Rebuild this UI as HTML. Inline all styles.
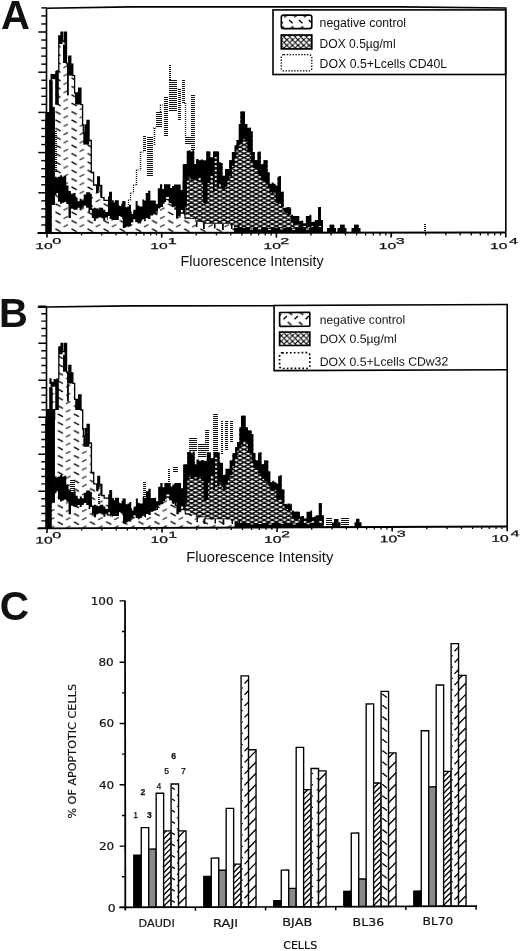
<!DOCTYPE html>
<html lang="en"><head><meta charset="utf-8"><title>Figure</title>
<style>html,body{margin:0;padding:0;background:#fff}body{width:520px;height:951px;overflow:hidden}svg{display:block}text{font-family:"Liberation Sans",Arial,Helvetica,sans-serif;fill:#111}text.tk{stroke:#111;stroke-width:0.25px}text.dj{font-family:"DejaVu Sans","Liberation Sans",sans-serif;stroke:#111;stroke-width:0.18px}</style>
</head><body>
<svg width="520" height="951" viewBox="0 0 520 951">
<defs>
<pattern id="negA" patternUnits="userSpaceOnUse" width="16.1" height="8.38" patternTransform="translate(54 110.7)"><g stroke="#000" stroke-width="1.5" fill="none"><path d="M1.4 -7.58 l5.2 2.8"/><path d="M9.5 -1.08 l4.5 -2.3" stroke-width="1.25" stroke="#333"/><path d="M1.4 0.8 l5.2 2.8"/><path d="M9.5 7.3 l4.5 -2.3" stroke-width="1.25" stroke="#333"/><path d="M1.4 9.18 l5.2 2.8"/><path d="M9.5 15.68 l4.5 -2.3" stroke-width="1.25" stroke="#333"/></g></pattern>
<pattern id="negB" patternUnits="userSpaceOnUse" width="16.1" height="8.3" patternTransform="translate(56.4 413.2)"><g stroke="#000" stroke-width="1.5" fill="none"><path d="M1.4 -7.5 l5.2 2.8"/><path d="M9.5 -1 l4.5 -2.3" stroke-width="1.25" stroke="#333"/><path d="M1.4 0.8 l5.2 2.8"/><path d="M9.5 7.3 l4.5 -2.3" stroke-width="1.25" stroke="#333"/><path d="M1.4 9.1 l5.2 2.8"/><path d="M9.5 15.6 l4.5 -2.3" stroke-width="1.25" stroke="#333"/></g></pattern>
<pattern id="negLA" patternUnits="userSpaceOnUse" width="16.1" height="8.38" patternTransform="translate(283 15.5)"><g stroke="#000" stroke-width="1.5" fill="none"><path d="M1.4 -7.58 l5.2 2.8"/><path d="M9.5 -1.08 l4.5 -2.3" stroke-width="1.25" stroke="#333"/><path d="M1.4 0.8 l5.2 2.8"/><path d="M9.5 7.3 l4.5 -2.3" stroke-width="1.25" stroke="#333"/><path d="M1.4 9.18 l5.2 2.8"/><path d="M9.5 15.68 l4.5 -2.3" stroke-width="1.25" stroke="#333"/></g></pattern>
<pattern id="negLB" patternUnits="userSpaceOnUse" width="16.1" height="8.38" patternTransform="translate(281 313.5)"><g stroke="#000" stroke-width="1.5" fill="none"><path d="M1.4 -7.58 l5.2 2.8"/><path d="M9.5 -1.08 l4.5 -2.3" stroke-width="1.25" stroke="#333"/><path d="M1.4 0.8 l5.2 2.8"/><path d="M9.5 7.3 l4.5 -2.3" stroke-width="1.25" stroke="#333"/><path d="M1.4 9.18 l5.2 2.8"/><path d="M9.5 15.68 l4.5 -2.3" stroke-width="1.25" stroke="#333"/></g></pattern>
<pattern id="xhA" patternUnits="userSpaceOnUse" width="8.08" height="4.28" patternTransform="translate(1.64 3.58)"><rect width="8.08" height="4.28" fill="#fff"/><path d="M-8.08 -12.84L16.16 0M-8.08 0L16.16 -12.84M-8.08 -8.56L16.16 4.28M-8.08 4.28L16.16 -8.56M-8.08 -4.28L16.16 8.56M-8.08 8.56L16.16 -4.28M-8.08 0L16.16 12.84M-8.08 12.84L16.16 0M-8.08 4.28L16.16 17.12M-8.08 17.12L16.16 4.28M-8.08 8.56L16.16 21.4M-8.08 21.4L16.16 8.56" stroke="#000" stroke-width="1.42" fill="none"/></pattern>
<pattern id="xhB" patternUnits="userSpaceOnUse" width="8.08" height="4.28" patternTransform="translate(1.64 5.08)"><rect width="8.08" height="4.28" fill="#fff"/><path d="M-8.08 -12.84L16.16 0M-8.08 0L16.16 -12.84M-8.08 -8.56L16.16 4.28M-8.08 4.28L16.16 -8.56M-8.08 -4.28L16.16 8.56M-8.08 8.56L16.16 -4.28M-8.08 0L16.16 12.84M-8.08 12.84L16.16 0M-8.08 4.28L16.16 17.12M-8.08 17.12L16.16 4.28M-8.08 8.56L16.16 21.4M-8.08 21.4L16.16 8.56" stroke="#000" stroke-width="1.42" fill="none"/></pattern>
<pattern id="xhL" patternUnits="userSpaceOnUse" width="5.6" height="5.6" patternTransform="translate(1.2 0.6)"><rect width="5.6" height="5.6" fill="#fff"/><path d="M-1 -1L6.6 6.6M-1 6.6L6.6 -1M-1 4.6L1 6.6M4.6 -1L6.6 1M-1 1L1 -1M4.6 6.6L6.6 4.6" stroke="#000" stroke-width="1.15" fill="none"/></pattern>
<pattern id="h5" patternUnits="userSpaceOnUse" width="3.6" height="3.6" patternTransform="translate(0 0.5)"><rect width="3.6" height="3.6" fill="#fff"/><path d="M-1 4.6L4.6 -1M-1 1L1 -1M2.6 4.6L4.6 2.6" stroke="#000" stroke-width="1.05"/></pattern>
<pattern id="h7" patternUnits="userSpaceOnUse" width="7.4" height="7.2"><rect width="7.4" height="7.2" fill="#fff"/><path d="M1.6 6.2L5.8 1.6" stroke="#000" stroke-width="1.1"/></pattern>
<pattern id="h6" patternUnits="userSpaceOnUse" width="7.4" height="7.6"><rect width="7.4" height="7.6" fill="#fff"/><path d="M3.7 0V2.2M3.7 3.8V5.6" stroke="#000" stroke-width="1"/><path d="M1 4.4L3.7 6.4" stroke="#000" stroke-width="0.9"/></pattern>
</defs>
<rect width="520" height="951" fill="#fff"/>
<g>
<path d="M49.2 233 L49.2 80.4 L51.2 80.4 L51.2 74.6 L56.7 74.6 L56.7 71 L58.8 71 L58.8 36 L61 36 L61 32.2 L62.7 32.2 L62.7 41 L64.5 41 L64.5 32.2 L66.5 32.2 L66.5 63 L67 63 L67 64.2 L68.8 64.2 L68.8 56.1 L70.8 56.1 L70.8 64.2 L72.8 64.2 L72.8 75.7 L74.6 75.7 L74.6 93 L78.6 93 L78.6 88.2 L80.9 88.2 L80.9 104.6 L82.6 104.6 L82.6 125 L83.3 125 L83.3 133 L85 133 L85 125 L87 125 L87 120.4 L89 120.4 L89 140.5 L91.3 140.5 L91.3 172.5 L93.6 172.5 L93.6 185 L96 185 L96 185 L97.7 185 L97.7 176.9 L99.4 176.9 L99.4 185.5 L101.7 185.5 L101.7 197.6 L104 197.6 L104 200.4 L109.7 200.4 L109.7 192.3 L111.3 192.3 L111.3 201 L113 201 L113 210 L120 210 L120 214 L124 214 L124 222 L131 222 L131 217 L136 217 L136 221 L141 221 L141 217 L148 217 L148 214 L153 214 L153 213 L157 213 L157 207 L160 207 L160 203 L164 203 L164 199.5 L169 199.5 L169 201 L172 201 L172 205 L175 205 L175 209 L180 209 L180 213 L185 213 L185 218 L196 218 L196 221 L205 221 L205 223 L240 223 L240 227 L290 227 L290 229.5 L322 229.5 L322 233Z" fill="#fff"/>
<path d="M49.2 233 L49.2 80.4 L51.2 80.4 L51.2 74.6 L56.7 74.6 L56.7 71 L58.8 71 L58.8 36 L61 36 L61 32.2 L62.7 32.2 L62.7 41 L64.5 41 L64.5 32.2 L66.5 32.2 L66.5 63 L67 63 L67 64.2 L68.8 64.2 L68.8 56.1 L70.8 56.1 L70.8 64.2 L72.8 64.2 L72.8 75.7 L74.6 75.7 L74.6 93 L78.6 93 L78.6 88.2 L80.9 88.2 L80.9 104.6 L82.6 104.6 L82.6 125 L83.3 125 L83.3 133 L85 133 L85 125 L87 125 L87 120.4 L89 120.4 L89 140.5 L91.3 140.5 L91.3 172.5 L93.6 172.5 L93.6 185 L96 185 L96 185 L97.7 185 L97.7 176.9 L99.4 176.9 L99.4 185.5 L101.7 185.5 L101.7 197.6 L104 197.6 L104 200.4 L109.7 200.4 L109.7 192.3 L111.3 192.3 L111.3 201 L113 201 L113 210 L120 210 L120 214 L124 214 L124 222 L131 222 L131 217 L136 217 L136 221 L141 221 L141 217 L148 217 L148 214 L153 214 L153 213 L157 213 L157 207 L160 207 L160 203 L164 203 L164 199.5 L169 199.5 L169 201 L172 201 L172 205 L175 205 L175 209 L180 209 L180 213 L185 213 L185 218 L196 218 L196 221 L205 221 L205 223 L240 223 L240 227 L290 227 L290 229.5 L322 229.5 L322 233Z" fill="url(#negA)"/>
<path d="M49.2 80.4 L51.2 80.4 L51.2 74.6 L56.7 74.6 L56.7 71 L58.8 71 L58.8 36 L61 36 L61 32.2 L62.7 32.2 L62.7 41 L64.5 41 L64.5 32.2 L66.5 32.2 L66.5 63 L67 63 L67 64.2 L68.8 64.2 L68.8 56.1 L70.8 56.1 L70.8 64.2 L72.8 64.2 L72.8 75.7 L74.6 75.7 L74.6 93 L78.6 93 L78.6 88.2 L80.9 88.2 L80.9 104.6 L82.6 104.6 L82.6 125 L83.3 125 L83.3 133 L85 133 L85 125 L87 125 L87 120.4 L89 120.4 L89 140.5 L91.3 140.5 L91.3 172.5 L93.6 172.5 L93.6 185 L96 185 L96 185 L97.7 185 L97.7 176.9 L99.4 176.9 L99.4 185.5 L101.7 185.5 L101.7 197.6 L104 197.6 L104 200.4 L109.7 200.4 L109.7 192.3 L111.3 192.3 L111.3 201 L113 201 L113 210 L120 210 L120 214 L124 214 L124 222 L131 222 L131 217 L136 217 L136 221 L141 221 L141 217 L148 217 L148 214 L153 214 L153 213 L157 213 L157 207 L160 207 L160 203 L164 203 L164 199.5 L169 199.5 L169 201 L172 201 L172 205 L175 205 L175 209 L180 209 L180 213 L185 213 L185 218 L196 218 L196 221 L205 221 L205 223 L240 223 L240 227 L290 227 L290 229.5 L322 229.5" fill="none" stroke="#000" stroke-width="1.3" stroke-linejoin="miter"/>
<rect x="49.2" y="80.4" width="3.5" height="26.6" fill="#000"/>
<rect x="49.2" y="107" width="5.6" height="98" fill="#000"/>
<rect x="49.2" y="205" width="2.4" height="28" fill="#000"/>
<rect x="51.2" y="74.6" width="5.5" height="4.6" fill="#000"/>
<rect x="55.2" y="71" width="3.6" height="33.6" fill="#000"/>
<rect x="58.8" y="36" width="3.7" height="8" fill="#000"/>
<rect x="61" y="32.2" width="1.7" height="3.8" fill="#000"/>
<rect x="63" y="44.6" width="3.5" height="18.4" fill="#000"/>
<rect x="64.5" y="32.2" width="2" height="12.4" fill="#000"/>
<rect x="68.8" y="56.1" width="2" height="8.1" fill="#000"/>
<rect x="67" y="64.2" width="5.8" height="11.5" fill="#000"/>
<rect x="67" y="75.7" width="1.8" height="19.7" fill="#000"/>
<rect x="78.6" y="88.2" width="2.3" height="4.8" fill="#000"/>
<rect x="75.1" y="93" width="5.8" height="11.6" fill="#000"/>
<rect x="87" y="120.4" width="2.2" height="24.2" fill="#000"/>
<rect x="85" y="125" width="2.4" height="19.6" fill="#000"/>
<rect x="83.3" y="133" width="1.8" height="11.6" fill="#000"/>
<rect x="96" y="185" width="2.4" height="8" fill="#000"/>
<rect x="97.7" y="176.9" width="1.7" height="13.8" fill="#000"/>
<rect x="100.2" y="185.5" width="1.6" height="12.1" fill="#000"/>
<rect x="108" y="196.5" width="3.5" height="4.5" fill="#000"/>
<rect x="109.8" y="192.5" width="1.7" height="8.5" fill="#000"/>
</g>
<g stroke="#111" fill="none">
<path d="M425 224V233" stroke-width="2" stroke-dasharray="1 1" shape-rendering="crispEdges"/>
<path d="M56 131V172" stroke-width="2" stroke-dasharray="1 1" shape-rendering="crispEdges"/>
<path d="M128.5 200V206" stroke-width="1.2" stroke-dasharray="1 1"/>
<path d="M130.5 193V200" stroke-width="1.2" stroke-dasharray="1 1"/>
<path d="M133.5 185V193" stroke-width="1.2" stroke-dasharray="1 1"/>
<path d="M136.5 170V185" stroke-width="1.4" stroke-dasharray="1 1"/>
<path d="M140.5 152V170" stroke-width="1.4" stroke-dasharray="1 1"/>
<path d="M144.5 136V151" stroke-width="3" stroke-dasharray="1 1" shape-rendering="crispEdges"/>
<path d="M150 137V176" stroke-width="6" stroke-dasharray="1 1" shape-rendering="crispEdges"/>
<path d="M154.5 128V145" stroke-width="1.5" stroke-dasharray="1 1"/>
<path d="M159 112V127" stroke-width="6" stroke-dasharray="1 1" shape-rendering="crispEdges"/>
<path d="M160.5 105V112" stroke-width="1.4" stroke-dasharray="1 1"/>
<path d="M166 97V136" stroke-width="4" stroke-dasharray="1 1" shape-rendering="crispEdges"/>
<path d="M170 65V80" stroke-width="2" stroke-dasharray="1 1" shape-rendering="crispEdges"/>
<path d="M173 80V111" stroke-width="8" stroke-dasharray="1 1" shape-rendering="crispEdges"/>
<path d="M179.5 89V120" stroke-width="3" stroke-dasharray="1 1" shape-rendering="crispEdges"/>
<path d="M183.5 80V103" stroke-width="3" stroke-dasharray="1 1" shape-rendering="crispEdges"/>
<path d="M185.5 103V137" stroke-width="1.3" stroke-dasharray="1 1"/>
<path d="M189 137V144" stroke-width="8" stroke-dasharray="1 1" shape-rendering="crispEdges"/>
<path d="M193 95V151" stroke-width="4" stroke-dasharray="1 1" shape-rendering="crispEdges"/>
<path d="M128 200H131" stroke-width="1" stroke-dasharray="1 1.2"/>
<path d="M130.5 193H133.5" stroke-width="1" stroke-dasharray="1 1.2"/>
<path d="M133 185H136.5" stroke-width="1" stroke-dasharray="1 1.2"/>
<path d="M136 170H141" stroke-width="1" stroke-dasharray="1 1.2"/>
<path d="M140.5 152H144" stroke-width="1" stroke-dasharray="1 1.2"/>
<path d="M153 128H156" stroke-width="1" stroke-dasharray="1 1.2"/>
<path d="M160 105H165" stroke-width="1" stroke-dasharray="1 1.2"/>
<path d="M176.5 89H179" stroke-width="1" stroke-dasharray="1 1.2"/>
<path d="M184 103H186" stroke-width="1" stroke-dasharray="1 1.2"/>
</g>
<path d="M184 164.2 L186.8 164.2 L186.8 151.4 L194.2 151.4 L194.2 164 L196.2 164 L196.2 160.2 L203 160.2 L203 160.2 L206.3 160.2 L206.3 151.4 L207.6 151.4 L207.6 151.4 L210.3 151.4 L210.3 157.5 L213 157.5 L213 151.4 L214.6 151.4 L214.6 151.4 L216.8 151.4 L216.8 151.4 L219.1 151.4 L219.1 162.9 L222.5 162.9 L222.5 175.7 L225.1 175.7 L225.1 169 L227.4 169 L227.4 169 L229.2 169 L229.2 160.2 L231.9 160.2 L231.9 152.1 L234.6 152.1 L234.6 145.4 L236.5 145.4 L236.5 140 L238.8 140 L238.8 124 L240.4 124 L240.4 111.5 L245 111.5 L245 124 L247.3 124 L247.3 127.7 L251 127.7 L251 131.5 L252.7 131.5 L252.7 152.1 L254.8 152.1 L254.8 160.2 L257.5 160.2 L257.5 151.4 L260.8 151.4 L260.8 164.2 L263.5 164.2 L263.5 160.2 L267.6 160.2 L267.6 172.3 L269.6 172.3 L269.6 183.7 L275.6 183.7 L275.6 185.5 L277.6 185.5 L277.6 176.3 L281 176.3 L281 191.8 L283.7 191.8 L283.7 207.3 L291.1 207.3 L291.1 216 L299.2 216 L299.2 220.8 L303.2 220.8 L303.2 223.4 L305.9 223.4 L305.9 216 L311.3 216 L311.3 222 L315 222 L315 220 L318 220 L318 207 L321 207 L321 220 L323 220 L323 228 L234 228 L234 225.5 L230 225.5 L230 223 L205 223 L205 220.8 L196 220.8 L196 218 L190 218 L190 215.4 L184 215.4Z" fill="url(#xhA)"/>
<path d="M54.8 176.8 L56.4 176.8 L56.4 177.6 L58 177.6 L58 176.8 L60.05 176.8 L60.05 175.2 L62.1 175.2 L62.1 176.8 L64.15 176.8 L64.15 176 L66.2 176 L66.2 185.6 L68.5 185.6 L68.5 191 L70.9 191 L70.9 193.8 L73.25 193.8 L73.25 193 L75.6 193 L75.6 197.7 L77.6 197.7 L77.6 201.2 L79.63 201.2 L79.63 198.8 L81.67 198.8 L81.67 200.4 L83.7 200.4 L83.7 194.6 L86.1 194.6 L86.1 192.2 L88.5 192.2 L88.5 192.2 L90.15 192.2 L90.15 193.8 L91.8 193.8 L91.8 208.5 L93.8 208.5 L93.8 207.7 L95.8 207.7 L95.8 208.5 L97.65 208.5 L97.65 209.3 L99.5 209.3 L99.5 207.7 L101.35 207.7 L101.35 207.7 L103.2 207.7 L103.2 209.7 L105.25 209.7 L105.25 212.1 L107.3 212.1 L107.3 211.8 L108 211.8 L108 200.4 L109.7 200.4 L109.7 192.3 L111.4 192.3 L111.4 201.7 L112.7 201.7 L112.7 202.6 L114.73 202.6 L114.73 200.2 L116.77 200.2 L116.77 200.2 L118.8 200.2 L118.8 205.3 L120.5 205.3 L120.5 203.7 L122.2 203.7 L122.2 201 L122.8 201 L122.8 201 L125.5 201 L125.5 207.2 L127.33 207.2 L127.33 206.4 L129.17 206.4 L129.17 204.8 L131 204.8 L131 211.4 L133.3 211.4 L133.3 209.8 L135.6 209.8 L135.6 201 L137.6 201 L137.6 205.6 L139.3 205.6 L139.3 206.4 L141 206.4 L141 206.4 L142.4 206.4 L142.4 199.6 L144.05 199.6 L144.05 200.4 L145.7 200.4 L145.7 193.1 L148.05 193.1 L148.05 190.7 L150.4 190.7 L150.4 200.4 L153 200.4 L153 200.4 L155.8 200.4 L155.8 204 L157.8 204 L157.8 188.3 L160 188.3 L160 184.2 L163 184.2 L163 184.2 L166 184.2 L166 184.2 L169 184.2 L169 184.2 L172 184.2 L172 186 L174 186 L174 184.4 L176 184.4 L176 184.4 L178.35 184.4 L178.35 184.4 L180.7 184.4 L180.7 190 L182.7 190 L182.7 181 L185 181 L185 214 L182.7 214 L182.7 210 L180.7 210 L180.7 216 L178.35 216 L178.35 218 L176 218 L176 206 L174 206 L174 207 L172 207 L172 203 L169 203 L169 197 L166 197 L166 202 L163 202 L163 207 L160 207 L160 208.4 L157.8 208.4 L157.8 211 L155.8 211 L155.8 214 L153 214 L153 215.5 L150.4 215.5 L150.4 219 L148.05 219 L148.05 218 L145.7 218 L145.7 221.2 L144.05 221.2 L144.05 219.2 L142.4 219.2 L142.4 220.2 L141 220.2 L141 222.6 L139.3 222.6 L139.3 223.6 L137.6 223.6 L137.6 222 L135.6 222 L135.6 219.2 L133.3 219.2 L133.3 222.2 L131 222.2 L131 226 L129.17 226 L129.17 226 L127.33 226 L127.33 227 L125.5 227 L125.5 228 L122.8 228 L122.8 219 L122.2 219 L122.2 217 L120.5 217 L120.5 216 L118.8 216 L118.8 220 L116.77 220 L116.77 220 L114.73 220 L114.73 220 L112.7 220 L112.7 220.5 L111.4 220.5 L111.4 219 L109.7 219 L109.7 215.9 L108 215.9 L108 220 L107.3 220 L107.3 217.5 L105.25 217.5 L105.25 220.5 L103.2 220.5 L103.2 218.2 L101.35 218.2 L101.35 217.2 L99.5 217.2 L99.5 217.2 L97.65 217.2 L97.65 218.2 L95.8 218.2 L95.8 220.9 L93.8 220.9 L93.8 217.9 L91.8 217.9 L91.8 210 L90.15 210 L90.15 212 L88.5 212 L88.5 207.8 L86.1 207.8 L86.1 205.8 L83.7 205.8 L83.7 207.8 L81.67 207.8 L81.67 209.8 L79.63 209.8 L79.63 207.8 L77.6 207.8 L77.6 209.8 L75.6 209.8 L75.6 209.8 L73.25 209.8 L73.25 208.8 L70.9 208.8 L70.9 217.9 L68.5 217.9 L68.5 204 L66.2 204 L66.2 201.7 L64.15 201.7 L64.15 202.7 L62.1 202.7 L62.1 203.7 L60.05 203.7 L60.05 201.7 L58 201.7 L58 193 L56.4 193 L56.4 195 L54.8 195Z" fill="#000"/>
<path d="M184 164.2 L186.8 164.2 L186.8 150.8 L188.65 150.8 L188.65 150.2 L190.5 150.2 L190.5 152 L192.35 152 L192.35 150.2 L194.2 150.2 L194.2 164 L196.2 164 L196.2 159 L198.47 159 L198.47 160.8 L200.73 160.8 L200.73 159.6 L203 159.6 L203 160.2 L204.65 160.2 L204.65 160.8 L206.3 160.8 L206.3 151.4 L207.6 151.4 L207.6 151.4 L210.3 151.4 L210.3 157.5 L213 157.5 L213 151.4 L214.6 151.4 L214.6 151.4 L216.8 151.4 L216.8 151.4 L219.1 151.4 L219.1 162.3 L220.8 162.3 L220.8 162.9 L222.5 162.9 L222.5 175.7 L225.1 175.7 L225.1 169 L227.4 169 L227.4 169 L229.2 169 L229.2 160.2 L231.9 160.2 L231.9 152.1 L234.6 152.1 L234.6 145.4 L236.5 145.4 L236.5 140 L238.8 140 L238.8 124 L240.4 124 L240.4 111.5 L242.7 111.5 L242.7 111.5 L245 111.5 L245 124 L247.3 124 L247.3 127.7 L249.15 127.7 L249.15 127.7 L251 127.7 L251 131.5 L252.7 131.5 L252.7 152.1 L254.8 152.1 L254.8 160.2 L257.5 160.2 L257.5 152.6 L259.15 152.6 L259.15 151.4 L260.8 151.4 L260.8 164.2 L263.5 164.2 L263.5 160.2 L265.55 160.2 L265.55 160.2 L267.6 160.2 L267.6 172.3 L269.6 172.3 L269.6 184.3 L271.6 184.3 L271.6 182.5 L273.6 182.5 L273.6 184.3 L275.6 184.3 L275.6 185.5 L277.6 185.5 L277.6 177.5 L279.3 177.5 L279.3 176.3 L281 176.3 L281 191.8 L283.7 191.8 L283.7 207.9 L285.55 207.9 L285.55 207.9 L287.4 207.9 L287.4 207.3 L289.25 207.3 L289.25 208.5 L291.1 208.5 L291.1 214.8 L293.12 214.8 L293.12 216 L295.15 216 L295.15 216 L297.18 216 L297.18 216 L299.2 216 L299.2 221.4 L301.2 221.4 L301.2 220.8 L303.2 220.8 L303.2 223.4 L305.9 223.4 L305.9 216 L307.7 216 L307.7 216 L309.5 216 L309.5 214.8 L311.3 214.8 L311.3 222 L313.15 222 L313.15 221.4 L315 221.4 L315 220 L318 220 L318 207 L321 207 L321 220 L323 220 L323 228 L321 228 L321 226 L318 226 L318 230 L315 230 L315 228 L313.15 228 L313.15 226 L311.3 226 L311.3 227 L309.5 227 L309.5 227 L307.7 227 L307.7 228 L305.9 228 L305.9 226 L303.2 226 L303.2 228 L301.2 228 L301.2 231 L299.2 231 L299.2 224 L297.18 224 L297.18 225 L295.15 225 L295.15 225 L293.12 225 L293.12 222 L291.1 222 L291.1 214 L289.25 214 L289.25 216 L287.4 216 L287.4 213 L285.55 213 L285.55 212 L283.7 212 L283.7 207 L281 207 L281 203 L279.3 203 L279.3 203 L277.6 203 L277.6 203 L275.6 203 L275.6 192 L273.6 192 L273.6 193 L271.6 193 L271.6 192 L269.6 192 L269.6 188 L267.6 188 L267.6 184 L265.55 184 L265.55 182 L263.5 182 L263.5 180 L260.8 180 L260.8 176 L259.15 176 L259.15 174 L257.5 174 L257.5 169 L254.8 169 L254.8 168 L252.7 168 L252.7 161 L251 161 L251 152 L249.15 152 L249.15 151 L247.3 151 L247.3 141 L245 141 L245 139 L242.7 139 L242.7 143 L240.4 143 L240.4 145 L238.8 145 L238.8 149 L236.5 149 L236.5 157 L234.6 157 L234.6 166 L231.9 166 L231.9 176 L229.2 176 L229.2 181 L227.4 181 L227.4 186 L225.1 186 L225.1 191 L222.5 191 L222.5 188 L220.8 188 L220.8 184 L219.1 184 L219.1 188 L216.8 188 L216.8 157 L214.6 157 L214.6 192 L213 192 L213 176 L210.3 176 L210.3 183 L207.6 183 L207.6 203 L206.3 203 L206.3 204 L204.65 204 L204.65 203 L203 203 L203 182 L200.73 182 L200.73 177 L198.47 177 L198.47 181 L196.2 181 L196.2 178 L194.2 178 L194.2 179.7 L192.35 179.7 L192.35 179.7 L190.5 179.7 L190.5 176.7 L188.65 176.7 L188.65 180.7 L186.8 180.7 L186.8 203 L184 203Z" fill="#000"/>
<rect x="327" y="228" width="9" height="5" fill="#000"/>
<rect x="329.5" y="224.6" width="4.8" height="3.9" fill="#000"/>
<rect x="337.5" y="228" width="9" height="5" fill="#000"/>
<rect x="340" y="224.6" width="4.8" height="3.9" fill="#000"/>
<rect x="351.5" y="228" width="9" height="5" fill="#000"/>
<rect x="354" y="224.6" width="4.8" height="3.9" fill="#000"/>
<rect x="234" y="228" width="89" height="5" fill="#000"/>
<rect x="45.3" y="120" width="6.2" height="113" fill="#000"/>
<rect x="45.3" y="112" width="9.5" height="93" fill="#000"/>
<rect x="182.7" y="164.2" width="4.1" height="42.8" fill="#000"/>
<rect x="196" y="222" width="1.5" height="5" fill="#000"/>
<rect x="203" y="223" width="1.8" height="6" fill="#000"/>
<rect x="214" y="223.5" width="1.5" height="5" fill="#000"/>
<rect x="222" y="224" width="1.8" height="6" fill="#000"/>
<rect x="231" y="224.5" width="1.5" height="4.5" fill="#000"/>
<rect x="238" y="225" width="1.6" height="5" fill="#000"/>
<rect x="300" y="190" width="0" height="13" fill="#000"/>
<rect x="119.5" y="200.5" width="1.8" height="5.5" fill="#fff"/>
<rect x="131.7" y="206" width="1.4" height="8" fill="#fff"/>
<rect x="162.2" y="183.5" width="1.8" height="5.5" fill="#fff"/>
<rect x="170.3" y="183.5" width="1.8" height="4.5" fill="#fff"/>
<rect x="250" y="228.6" width="3" height="1" fill="#fff"/>
<rect x="258" y="228.2" width="3" height="1.1" fill="#fff"/>
<rect x="268" y="228.8" width="3" height="1" fill="#fff"/>
<rect x="280" y="228.4" width="3" height="1" fill="#fff"/>
<rect x="292" y="228.8" width="3" height="1" fill="#fff"/>
<rect x="306" y="228.6" width="3" height="1" fill="#fff"/>
<g stroke="#000" fill="none">
<path d="M46.5 233V8.3L130 6.9L400 6.9L505.8 8V232.7" stroke-width="1.6"/>
<path d="M38.3 233H46.5" stroke-width="1.5"/>
<path d="M41.3 224.96H46.5" stroke-width="1.4"/>
<path d="M41.3 216.92H46.5" stroke-width="1.4"/>
<path d="M41.3 208.88H46.5" stroke-width="1.4"/>
<path d="M41.3 200.84H46.5" stroke-width="1.4"/>
<path d="M38.3 192.8H46.5" stroke-width="1.5"/>
<path d="M41.3 184.76H46.5" stroke-width="1.4"/>
<path d="M41.3 176.72H46.5" stroke-width="1.4"/>
<path d="M41.3 168.68H46.5" stroke-width="1.4"/>
<path d="M41.3 160.64H46.5" stroke-width="1.4"/>
<path d="M38.3 152.6H46.5" stroke-width="1.5"/>
<path d="M41.3 144.56H46.5" stroke-width="1.4"/>
<path d="M41.3 136.52H46.5" stroke-width="1.4"/>
<path d="M41.3 128.48H46.5" stroke-width="1.4"/>
<path d="M41.3 120.44H46.5" stroke-width="1.4"/>
<path d="M38.3 112.4H46.5" stroke-width="1.5"/>
<path d="M41.3 104.36H46.5" stroke-width="1.4"/>
<path d="M41.3 96.32H46.5" stroke-width="1.4"/>
<path d="M41.3 88.28H46.5" stroke-width="1.4"/>
<path d="M41.3 80.24H46.5" stroke-width="1.4"/>
<path d="M38.3 72.2H46.5" stroke-width="1.5"/>
<path d="M41.3 64.16H46.5" stroke-width="1.4"/>
<path d="M41.3 56.12H46.5" stroke-width="1.4"/>
<path d="M41.3 48.08H46.5" stroke-width="1.4"/>
<path d="M41.3 40.04H46.5" stroke-width="1.4"/>
<path d="M38.3 32H46.5" stroke-width="1.5"/>
<path d="M41.3 23.96H46.5" stroke-width="1.4"/>
<path d="M41.3 15.92H46.5" stroke-width="1.4"/>
<path d="M41.3 7.88H46.5" stroke-width="1.4"/>
<path d="M37.5 233L505.8 232.5" stroke-width="1.9"/>
<path d="M47 233V237.6" stroke-width="1.6"/>
<path d="M81.53 233V235.4" stroke-width="1.3"/>
<path d="M101.73 233V235.4" stroke-width="1.3"/>
<path d="M116.06 233V235.4" stroke-width="1.3"/>
<path d="M127.17 233V235.4" stroke-width="1.3"/>
<path d="M136.25 233V235.4" stroke-width="1.3"/>
<path d="M143.93 233V235.4" stroke-width="1.3"/>
<path d="M150.58 233V235.4" stroke-width="1.3"/>
<path d="M156.45 233V235.4" stroke-width="1.3"/>
<path d="M161.7 233V237.6" stroke-width="1.6"/>
<path d="M196.23 233V235.4" stroke-width="1.3"/>
<path d="M216.43 233V235.4" stroke-width="1.3"/>
<path d="M230.76 233V235.4" stroke-width="1.3"/>
<path d="M241.87 233V235.4" stroke-width="1.3"/>
<path d="M250.95 233V235.4" stroke-width="1.3"/>
<path d="M258.63 233V235.4" stroke-width="1.3"/>
<path d="M265.28 233V235.4" stroke-width="1.3"/>
<path d="M271.15 233V235.4" stroke-width="1.3"/>
<path d="M276.4 233V237.6" stroke-width="1.6"/>
<path d="M310.93 233V235.4" stroke-width="1.3"/>
<path d="M331.13 233V235.4" stroke-width="1.3"/>
<path d="M345.46 233V235.4" stroke-width="1.3"/>
<path d="M356.57 233V235.4" stroke-width="1.3"/>
<path d="M365.65 233V235.4" stroke-width="1.3"/>
<path d="M373.33 233V235.4" stroke-width="1.3"/>
<path d="M379.98 233V235.4" stroke-width="1.3"/>
<path d="M385.85 233V235.4" stroke-width="1.3"/>
<path d="M391.1 233V237.6" stroke-width="1.6"/>
<path d="M425.63 233V235.4" stroke-width="1.3"/>
<path d="M445.83 233V235.4" stroke-width="1.3"/>
<path d="M460.16 233V235.4" stroke-width="1.3"/>
<path d="M471.27 233V235.4" stroke-width="1.3"/>
<path d="M480.35 233V235.4" stroke-width="1.3"/>
<path d="M488.03 233V235.4" stroke-width="1.3"/>
<path d="M494.68 233V235.4" stroke-width="1.3"/>
<path d="M500.55 233V235.4" stroke-width="1.3"/>
<path d="M505.8 233V237.6" stroke-width="1.6"/>
</g>
<text x="35.2" y="249.3" font-size="9.6" textLength="17.4" lengthAdjust="spacingAndGlyphs" class="tk">10</text>
<text x="52.3" y="244" font-size="8.8" textLength="9" lengthAdjust="spacingAndGlyphs" class="tk">0</text>
<text x="150.2" y="249.3" font-size="9.6" textLength="17.4" lengthAdjust="spacingAndGlyphs" class="tk">10</text>
<text x="167.8" y="244" font-size="8.8" textLength="9" lengthAdjust="spacingAndGlyphs" class="tk">1</text>
<text x="263.5" y="249.3" font-size="9.6" textLength="17.4" lengthAdjust="spacingAndGlyphs" class="tk">10</text>
<text x="280.3" y="244" font-size="8.8" textLength="9" lengthAdjust="spacingAndGlyphs" class="tk">2</text>
<text x="378.7" y="249.3" font-size="9.6" textLength="17.4" lengthAdjust="spacingAndGlyphs" class="tk">10</text>
<text x="395.8" y="244" font-size="8.8" textLength="9" lengthAdjust="spacingAndGlyphs" class="tk">3</text>
<text x="490" y="249.3" font-size="9.6" textLength="17.4" lengthAdjust="spacingAndGlyphs" class="tk">10</text>
<text x="509" y="244" font-size="8.8" textLength="9" lengthAdjust="spacingAndGlyphs" class="tk">4</text>
<g transform="matrix(1 -0.00384 0 1 0 0.1786)">
<g>
<path d="M49.21 528.3 L49.21 387.85 L51.21 387.85 L51.21 382.51 L56.73 382.51 L56.73 379.2 L58.84 379.2 L58.84 346.98 L61.04 346.98 L61.04 343.48 L62.75 343.48 L62.75 351.58 L64.55 351.58 L64.55 343.48 L66.56 343.48 L66.56 371.83 L67.06 371.83 L67.06 372.94 L68.87 372.94 L68.87 365.48 L70.87 365.48 L70.87 372.94 L72.88 372.94 L72.88 383.52 L74.68 383.52 L74.68 399.44 L78.7 399.44 L78.7 395.03 L81 395.03 L81 410.12 L82.71 410.12 L82.71 428.9 L83.41 428.9 L83.41 436.26 L85.12 436.26 L85.12 428.9 L87.12 428.9 L87.12 424.66 L89.13 424.66 L89.13 443.16 L91.43 443.16 L91.43 472.62 L93.74 472.62 L93.74 484.12 L96.15 484.12 L96.15 484.12 L97.85 484.12 L97.85 476.67 L99.56 476.67 L99.56 484.58 L101.87 484.58 L101.87 495.72 L104.17 495.72 L104.17 498.29 L109.89 498.29 L109.89 490.84 L111.49 490.84 L111.49 498.85 L113.2 498.85 L113.2 507.13 L120.22 507.13 L120.22 510.81 L124.23 510.81 L124.23 518.18 L131.25 518.18 L131.25 513.57 L136.27 513.57 L136.27 517.26 L141.28 517.26 L141.28 513.57 L148.3 513.57 L148.3 510.81 L153.32 510.81 L153.32 509.89 L157.33 509.89 L157.33 504.37 L160.34 504.37 L160.34 500.69 L164.35 500.69 L164.35 497.47 L169.37 497.47 L169.37 498.85 L172.38 498.85 L172.38 502.53 L175.39 502.53 L175.39 506.21 L180.4 506.21 L180.4 509.89 L185.42 509.89 L185.42 514.49 L196.45 514.49 L196.45 517.26 L205.48 517.26 L205.48 519.1 L240.58 519.1 L240.58 522.78 L290.73 522.78 L290.73 525.08 L324 525.08 L324 528.3Z" fill="#fff"/>
<path d="M49.21 528.3 L49.21 387.85 L51.21 387.85 L51.21 382.51 L56.73 382.51 L56.73 379.2 L58.84 379.2 L58.84 346.98 L61.04 346.98 L61.04 343.48 L62.75 343.48 L62.75 351.58 L64.55 351.58 L64.55 343.48 L66.56 343.48 L66.56 371.83 L67.06 371.83 L67.06 372.94 L68.87 372.94 L68.87 365.48 L70.87 365.48 L70.87 372.94 L72.88 372.94 L72.88 383.52 L74.68 383.52 L74.68 399.44 L78.7 399.44 L78.7 395.03 L81 395.03 L81 410.12 L82.71 410.12 L82.71 428.9 L83.41 428.9 L83.41 436.26 L85.12 436.26 L85.12 428.9 L87.12 428.9 L87.12 424.66 L89.13 424.66 L89.13 443.16 L91.43 443.16 L91.43 472.62 L93.74 472.62 L93.74 484.12 L96.15 484.12 L96.15 484.12 L97.85 484.12 L97.85 476.67 L99.56 476.67 L99.56 484.58 L101.87 484.58 L101.87 495.72 L104.17 495.72 L104.17 498.29 L109.89 498.29 L109.89 490.84 L111.49 490.84 L111.49 498.85 L113.2 498.85 L113.2 507.13 L120.22 507.13 L120.22 510.81 L124.23 510.81 L124.23 518.18 L131.25 518.18 L131.25 513.57 L136.27 513.57 L136.27 517.26 L141.28 517.26 L141.28 513.57 L148.3 513.57 L148.3 510.81 L153.32 510.81 L153.32 509.89 L157.33 509.89 L157.33 504.37 L160.34 504.37 L160.34 500.69 L164.35 500.69 L164.35 497.47 L169.37 497.47 L169.37 498.85 L172.38 498.85 L172.38 502.53 L175.39 502.53 L175.39 506.21 L180.4 506.21 L180.4 509.89 L185.42 509.89 L185.42 514.49 L196.45 514.49 L196.45 517.26 L205.48 517.26 L205.48 519.1 L240.58 519.1 L240.58 522.78 L290.73 522.78 L290.73 525.08 L324 525.08 L324 528.3Z" fill="url(#negB)"/>
<path d="M49.21 387.85 L51.21 387.85 L51.21 382.51 L56.73 382.51 L56.73 379.2 L58.84 379.2 L58.84 346.98 L61.04 346.98 L61.04 343.48 L62.75 343.48 L62.75 351.58 L64.55 351.58 L64.55 343.48 L66.56 343.48 L66.56 371.83 L67.06 371.83 L67.06 372.94 L68.87 372.94 L68.87 365.48 L70.87 365.48 L70.87 372.94 L72.88 372.94 L72.88 383.52 L74.68 383.52 L74.68 399.44 L78.7 399.44 L78.7 395.03 L81 395.03 L81 410.12 L82.71 410.12 L82.71 428.9 L83.41 428.9 L83.41 436.26 L85.12 436.26 L85.12 428.9 L87.12 428.9 L87.12 424.66 L89.13 424.66 L89.13 443.16 L91.43 443.16 L91.43 472.62 L93.74 472.62 L93.74 484.12 L96.15 484.12 L96.15 484.12 L97.85 484.12 L97.85 476.67 L99.56 476.67 L99.56 484.58 L101.87 484.58 L101.87 495.72 L104.17 495.72 L104.17 498.29 L109.89 498.29 L109.89 490.84 L111.49 490.84 L111.49 498.85 L113.2 498.85 L113.2 507.13 L120.22 507.13 L120.22 510.81 L124.23 510.81 L124.23 518.18 L131.25 518.18 L131.25 513.57 L136.27 513.57 L136.27 517.26 L141.28 517.26 L141.28 513.57 L148.3 513.57 L148.3 510.81 L153.32 510.81 L153.32 509.89 L157.33 509.89 L157.33 504.37 L160.34 504.37 L160.34 500.69 L164.35 500.69 L164.35 497.47 L169.37 497.47 L169.37 498.85 L172.38 498.85 L172.38 502.53 L175.39 502.53 L175.39 506.21 L180.4 506.21 L180.4 509.89 L185.42 509.89 L185.42 514.49 L196.45 514.49 L196.45 517.26 L205.48 517.26 L205.48 519.1 L240.58 519.1 L240.58 522.78 L290.73 522.78 L290.73 525.08 L324 525.08" fill="none" stroke="#000" stroke-width="1.3" stroke-linejoin="miter"/>
<rect x="49.21" y="387.85" width="3.5" height="24.48" fill="#000"/>
<rect x="49.21" y="412.33" width="5.6" height="90.2" fill="#000"/>
<rect x="49.21" y="502.53" width="2.4" height="25.77" fill="#000"/>
<rect x="51.21" y="382.51" width="5.5" height="4.23" fill="#000"/>
<rect x="55.23" y="379.2" width="3.6" height="30.92" fill="#000"/>
<rect x="58.84" y="346.98" width="3.7" height="7.36" fill="#000"/>
<rect x="61.04" y="343.48" width="1.7" height="3.5" fill="#000"/>
<rect x="63.05" y="354.9" width="3.5" height="16.93" fill="#000"/>
<rect x="64.55" y="343.48" width="2" height="11.42" fill="#000"/>
<rect x="68.87" y="365.48" width="2" height="7.46" fill="#000"/>
<rect x="67.06" y="372.94" width="5.8" height="10.58" fill="#000"/>
<rect x="67.06" y="383.52" width="1.8" height="18.13" fill="#000"/>
<rect x="78.7" y="395.03" width="2.3" height="4.41" fill="#000"/>
<rect x="75.19" y="399.44" width="5.8" height="10.68" fill="#000"/>
<rect x="87.12" y="424.66" width="2.2" height="22.28" fill="#000"/>
<rect x="85.12" y="428.9" width="2.4" height="18.04" fill="#000"/>
<rect x="83.41" y="436.26" width="1.8" height="10.68" fill="#000"/>
<rect x="96.15" y="484.12" width="2.4" height="7.36" fill="#000"/>
<rect x="97.85" y="476.67" width="1.7" height="12.7" fill="#000"/>
<rect x="100.36" y="484.58" width="1.6" height="11.14" fill="#000"/>
<rect x="108.18" y="494.71" width="3.5" height="4.14" fill="#000"/>
<rect x="109.99" y="491.02" width="1.7" height="7.83" fill="#000"/>
<rect x="49.4" y="378.3" width="2.2" height="5.7" fill="#000"/>
<rect x="53.6" y="379" width="2" height="5" fill="#000"/>
</g>
<g stroke="#111" fill="none">
<path d="M144.5 482V500" stroke-width="3" stroke-dasharray="1 1" shape-rendering="crispEdges"/>
<path d="M169 469V490" stroke-width="2" stroke-dasharray="1 1" shape-rendering="crispEdges"/>
<path d="M175.5 468V474" stroke-width="5" stroke-dasharray="1 1" shape-rendering="crispEdges"/>
<path d="M193 439V452" stroke-width="8" stroke-dasharray="1 1" shape-rendering="crispEdges"/>
<path d="M202 445V459" stroke-width="8" stroke-dasharray="1 1" shape-rendering="crispEdges"/>
<path d="M207 431V452" stroke-width="4" stroke-dasharray="1 1" shape-rendering="crispEdges"/>
<path d="M215.5 415V454" stroke-width="5" stroke-dasharray="1 1" shape-rendering="crispEdges"/>
<path d="M222 422V455" stroke-width="2" stroke-dasharray="1 1" shape-rendering="crispEdges"/>
<path d="M226.5 422V452" stroke-width="3" stroke-dasharray="1 1" shape-rendering="crispEdges"/>
<path d="M231.5 422V444" stroke-width="3" stroke-dasharray="1 1" shape-rendering="crispEdges"/>
<path d="M72.5 480V495" stroke-width="5" stroke-dasharray="1 1" shape-rendering="crispEdges"/>
<path d="M99 495V505" stroke-width="2" stroke-dasharray="1 1" shape-rendering="crispEdges"/>
<path d="M329 519V528" stroke-width="6" stroke-dasharray="1 1" shape-rendering="crispEdges"/>
<path d="M345 519V528" stroke-width="8" stroke-dasharray="1 1" shape-rendering="crispEdges"/>
</g>
<path d="M184.41 464.98 L187.22 464.98 L187.22 453.2 L194.64 453.2 L194.64 464.79 L196.65 464.79 L196.65 461.29 L203.47 461.29 L203.47 461.29 L206.78 461.29 L206.78 453.2 L208.08 453.2 L208.08 453.2 L210.79 453.2 L210.79 458.81 L213.5 458.81 L213.5 453.2 L215.1 453.2 L215.1 453.2 L217.31 453.2 L217.31 453.2 L219.62 453.2 L219.62 463.78 L223.03 463.78 L223.03 475.56 L225.64 475.56 L225.64 469.39 L227.94 469.39 L227.94 469.39 L229.75 469.39 L229.75 461.29 L232.46 461.29 L232.46 453.84 L235.16 453.84 L235.16 447.67 L237.07 447.67 L237.07 442.7 L239.38 442.7 L239.38 427.98 L240.98 427.98 L240.98 416.47 L245.6 416.47 L245.6 427.98 L247.9 427.98 L247.9 431.38 L251.61 431.38 L251.61 434.88 L253.32 434.88 L253.32 453.84 L255.42 453.84 L255.42 461.29 L258.13 461.29 L258.13 453.2 L261.44 453.2 L261.44 464.98 L264.15 464.98 L264.15 461.29 L268.26 461.29 L268.26 472.43 L270.27 472.43 L270.27 482.92 L276.29 482.92 L276.29 484.58 L278.29 484.58 L278.29 476.11 L281.7 476.11 L281.7 490.38 L284.41 490.38 L284.41 504.65 L291.83 504.65 L291.83 512.65 L299.96 512.65 L299.96 517.07 L303.97 517.07 L303.97 519.46 L306.68 519.46 L306.68 512.65 L312.09 512.65 L312.09 518.18 L315.81 518.18 L315.81 516.33 L318.81 516.33 L318.81 504.37 L321.82 504.37 L321.82 516.33 L323.83 516.33 L323.83 523.7 L234.56 523.7 L234.56 521.4 L230.55 521.4 L230.55 519.1 L205.48 519.1 L205.48 517.07 L196.45 517.07 L196.45 514.49 L190.43 514.49 L190.43 512.1 L184.41 512.1Z" fill="url(#xhB)"/>
<path d="M54.82 476.57 L56.42 476.57 L56.42 477.37 L58.03 477.37 L58.03 476.57 L60.09 476.57 L60.09 474.97 L62.15 474.97 L62.15 476.57 L64.2 476.57 L64.2 475.77 L66.26 475.77 L66.26 484.67 L68.57 484.67 L68.57 489.64 L70.97 489.64 L70.97 492.28 L73.33 492.28 L73.33 491.48 L75.69 491.48 L75.69 495.81 L77.69 495.81 L77.69 499.09 L79.73 499.09 L79.73 496.69 L81.77 496.69 L81.77 498.29 L83.81 498.29 L83.81 493.08 L86.22 493.08 L86.22 490.68 L88.63 490.68 L88.63 490.68 L90.28 490.68 L90.28 492.28 L91.94 492.28 L91.94 505.75 L93.94 505.75 L93.94 504.95 L95.95 504.95 L95.95 505.75 L97.81 505.75 L97.81 506.55 L99.66 506.55 L99.66 504.95 L101.52 504.95 L101.52 504.95 L103.37 504.95 L103.37 506.79 L105.43 506.79 L105.43 509.19 L107.48 509.19 L107.48 508.79 L108.18 508.79 L108.18 498.29 L109.89 498.29 L109.89 490.84 L111.59 490.84 L111.59 499.49 L112.9 499.49 L112.9 500.45 L114.94 500.45 L114.94 498.05 L116.98 498.05 L116.98 498.05 L119.02 498.05 L119.02 502.87 L120.72 502.87 L120.72 501.27 L122.43 501.27 L122.43 498.85 L123.03 498.85 L123.03 498.85 L125.74 498.85 L125.74 504.62 L127.58 504.62 L127.58 503.82 L129.41 503.82 L129.41 502.22 L131.25 502.22 L131.25 508.55 L133.56 508.55 L133.56 506.95 L135.87 506.95 L135.87 498.85 L137.87 498.85 L137.87 503.02 L139.57 503.02 L139.57 503.82 L141.28 503.82 L141.28 503.82 L142.69 503.82 L142.69 497.49 L144.34 497.49 L144.34 498.29 L146 498.29 L146 491.64 L148.36 491.64 L148.36 489.24 L150.71 489.24 L150.71 498.29 L153.32 498.29 L153.32 498.29 L156.13 498.29 L156.13 501.61 L158.13 501.61 L158.13 487.16 L160.34 487.16 L160.34 483.38 L163.35 483.38 L163.35 483.38 L166.36 483.38 L166.36 483.38 L169.37 483.38 L169.37 483.38 L172.38 483.38 L172.38 485.04 L174.38 485.04 L174.38 483.57 L176.39 483.57 L176.39 483.57 L178.75 483.57 L178.75 483.57 L181.1 483.57 L181.1 488.72 L183.11 488.72 L183.11 480.44 L185.42 480.44 L185.42 510.81 L183.11 510.81 L183.11 506.97 L181.1 506.97 L181.1 512.73 L178.75 512.73 L178.75 514.73 L176.39 514.73 L176.39 503.37 L174.38 503.37 L174.38 504.53 L172.38 504.53 L172.38 500.85 L169.37 500.85 L169.37 495.01 L166.36 495.01 L166.36 499.85 L163.35 499.85 L163.35 504.61 L160.34 504.61 L160.34 505.82 L158.13 505.82 L158.13 508.05 L156.13 508.05 L156.13 510.81 L153.32 510.81 L153.32 512.11 L150.71 512.11 L150.71 515.49 L148.36 515.49 L148.36 514.49 L146 514.49 L146 517.6 L144.34 517.6 L144.34 515.6 L142.69 515.6 L142.69 516.6 L141.28 516.6 L141.28 518.57 L139.57 518.57 L139.57 519.57 L137.87 519.57 L137.87 518.26 L135.87 518.26 L135.87 515.6 L133.56 515.6 L133.56 518.6 L131.25 518.6 L131.25 521.86 L129.41 521.86 L129.41 521.86 L127.58 521.86 L127.58 522.86 L125.74 522.86 L125.74 523.86 L123.03 523.86 L123.03 515.49 L122.43 515.49 L122.43 513.49 L120.72 513.49 L120.72 512.49 L119.02 512.49 L119.02 516.33 L116.98 516.33 L116.98 516.33 L114.94 516.33 L114.94 516.33 L112.9 516.33 L112.9 516.95 L111.59 516.95 L111.59 515.49 L109.89 515.49 L109.89 512.4 L108.18 512.4 L108.18 516.49 L107.48 516.49 L107.48 514.03 L105.43 514.03 L105.43 517.03 L103.37 517.03 L103.37 514.76 L101.52 514.76 L101.52 513.76 L99.66 513.76 L99.66 513.76 L97.81 513.76 L97.81 514.76 L95.95 514.76 L95.95 517.4 L93.94 517.4 L93.94 514.4 L91.94 514.4 L91.94 507.13 L90.28 507.13 L90.28 509.13 L88.63 509.13 L88.63 505.11 L86.22 505.11 L86.22 503.11 L83.81 503.11 L83.81 505.11 L81.77 505.11 L81.77 507.11 L79.73 507.11 L79.73 505.11 L77.69 505.11 L77.69 507.11 L75.69 507.11 L75.69 506.95 L73.33 506.95 L73.33 505.95 L70.97 505.95 L70.97 514.4 L68.57 514.4 L68.57 501.61 L66.26 501.61 L66.26 499.49 L64.2 499.49 L64.2 500.49 L62.15 500.49 L62.15 501.49 L60.09 501.49 L60.09 499.49 L58.03 499.49 L58.03 491.32 L56.42 491.32 L56.42 493.32 L54.82 493.32Z" fill="#000"/>
<path d="M184.41 464.98 L187.22 464.98 L187.22 452.6 L189.07 452.6 L189.07 452 L190.93 452 L190.93 453.8 L192.78 453.8 L192.78 452 L194.64 452 L194.64 464.79 L196.65 464.79 L196.65 460.09 L198.92 460.09 L198.92 461.89 L201.2 461.89 L201.2 460.69 L203.47 460.69 L203.47 461.29 L205.12 461.29 L205.12 461.89 L206.78 461.89 L206.78 453.2 L208.08 453.2 L208.08 453.2 L210.79 453.2 L210.79 458.81 L213.5 458.81 L213.5 453.2 L215.1 453.2 L215.1 453.2 L217.31 453.2 L217.31 453.2 L219.62 453.2 L219.62 463.18 L221.32 463.18 L221.32 463.78 L223.03 463.78 L223.03 475.56 L225.64 475.56 L225.64 469.39 L227.94 469.39 L227.94 469.39 L229.75 469.39 L229.75 461.29 L232.46 461.29 L232.46 453.84 L235.16 453.84 L235.16 447.67 L237.07 447.67 L237.07 442.7 L239.38 442.7 L239.38 427.98 L240.98 427.98 L240.98 416.47 L243.29 416.47 L243.29 416.47 L245.6 416.47 L245.6 427.98 L247.9 427.98 L247.9 431.38 L249.75 431.38 L249.75 431.38 L251.61 431.38 L251.61 434.88 L253.32 434.88 L253.32 453.84 L255.42 453.84 L255.42 461.29 L258.13 461.29 L258.13 454.4 L259.78 454.4 L259.78 453.2 L261.44 453.2 L261.44 464.98 L264.15 464.98 L264.15 461.29 L266.2 461.29 L266.2 461.29 L268.26 461.29 L268.26 472.43 L270.27 472.43 L270.27 483.52 L272.28 483.52 L272.28 481.72 L274.28 481.72 L274.28 483.52 L276.29 483.52 L276.29 484.58 L278.29 484.58 L278.29 477.31 L280 477.31 L280 476.11 L281.7 476.11 L281.7 490.38 L284.41 490.38 L284.41 505.25 L286.26 505.25 L286.26 505.25 L288.12 505.25 L288.12 504.65 L289.98 504.65 L289.98 505.85 L291.83 505.85 L291.83 511.45 L293.86 511.45 L293.86 512.65 L295.89 512.65 L295.89 512.65 L297.93 512.65 L297.93 512.65 L299.96 512.65 L299.96 517.67 L301.97 517.67 L301.97 517.07 L303.97 517.07 L303.97 519.46 L306.68 519.46 L306.68 512.65 L308.48 512.65 L308.48 512.65 L310.29 512.65 L310.29 511.45 L312.09 511.45 L312.09 518.18 L313.95 518.18 L313.95 517.58 L315.81 517.58 L315.81 516.33 L318.81 516.33 L318.81 504.37 L321.82 504.37 L321.82 516.33 L323.83 516.33 L323.83 523.7 L321.82 523.7 L321.82 521.7 L318.81 521.7 L318.81 525.7 L315.81 525.7 L315.81 523.7 L313.95 523.7 L313.95 521.7 L312.09 521.7 L312.09 522.7 L310.29 522.7 L310.29 522.7 L308.48 522.7 L308.48 523.7 L306.68 523.7 L306.68 521.7 L303.97 521.7 L303.97 523.7 L301.97 523.7 L301.97 526.7 L299.96 526.7 L299.96 520.02 L297.93 520.02 L297.93 521.02 L295.89 521.02 L295.89 521.02 L293.86 521.02 L293.86 518.02 L291.83 518.02 L291.83 510.81 L289.98 510.81 L289.98 512.81 L288.12 512.81 L288.12 509.81 L286.26 509.81 L286.26 508.81 L284.41 508.81 L284.41 504.29 L281.7 504.29 L281.7 500.69 L280 500.69 L280 500.69 L278.29 500.69 L278.29 500.93 L276.29 500.93 L276.29 490.56 L274.28 490.56 L274.28 491.56 L272.28 491.56 L272.28 490.56 L270.27 490.56 L270.27 486.88 L268.26 486.88 L268.26 483.36 L266.2 483.36 L266.2 481.36 L264.15 481.36 L264.15 479.68 L261.44 479.68 L261.44 476.08 L259.78 476.08 L259.78 474.08 L258.13 474.08 L258.13 469.39 L255.42 469.39 L255.42 468.63 L253.32 468.63 L253.32 462.11 L251.61 462.11 L251.61 453.67 L249.75 453.67 L249.75 452.67 L247.9 452.67 L247.9 443.54 L245.6 443.54 L245.6 441.62 L243.29 441.62 L243.29 445.62 L240.98 445.62 L240.98 447.54 L239.38 447.54 L239.38 450.91 L237.07 450.91 L237.07 458.27 L235.16 458.27 L235.16 466.63 L232.46 466.63 L232.46 475.84 L229.75 475.84 L229.75 480.44 L227.94 480.44 L227.94 485.04 L225.64 485.04 L225.64 489.88 L223.03 489.88 L223.03 487.04 L221.32 487.04 L221.32 483.04 L219.62 483.04 L219.62 486.72 L217.31 486.72 L217.31 458.27 L215.1 458.27 L215.1 490.72 L213.5 490.72 L213.5 475.68 L210.79 475.68 L210.79 482.52 L208.08 482.52 L208.08 500.69 L206.78 500.69 L206.78 501.69 L205.12 501.69 L205.12 500.69 L203.47 500.69 L203.47 481.6 L201.2 481.6 L201.2 476.6 L198.92 476.6 L198.92 480.6 L196.65 480.6 L196.65 477.68 L194.64 477.68 L194.64 479.4 L192.78 479.4 L192.78 479.4 L190.93 479.4 L190.93 476.4 L189.07 476.4 L189.07 480.4 L187.22 480.4 L187.22 500.93 L184.41 500.93Z" fill="#000"/>
<rect x="234.56" y="523.7" width="89" height="4.6" fill="#000"/>
<rect x="45.3" y="424.29" width="6.2" height="104.01" fill="#000"/>
<rect x="45.3" y="416.93" width="9.5" height="85.6" fill="#000"/>
<rect x="183.11" y="464.98" width="4.1" height="39.39" fill="#000"/>
<rect x="196.45" y="518.18" width="1.5" height="4.6" fill="#000"/>
<rect x="203.47" y="519.1" width="1.8" height="5.52" fill="#000"/>
<rect x="214.5" y="519.56" width="1.5" height="4.6" fill="#000"/>
<rect x="222.53" y="520.02" width="1.8" height="5.52" fill="#000"/>
<rect x="231.55" y="520.48" width="1.5" height="4.14" fill="#000"/>
<rect x="238.57" y="520.94" width="1.6" height="4.6" fill="#000"/>
<rect x="300.76" y="488.72" width="0" height="11.97" fill="#000"/>
<rect x="46" y="409" width="9.3" height="11" fill="#000"/>
<rect x="332" y="523.5" width="8.5" height="4.8" fill="#000"/>
<rect x="334" y="520" width="4.5" height="4" fill="#000"/>
<rect x="354.5" y="523.5" width="7" height="4.8" fill="#000"/>
<rect x="356" y="520" width="3.5" height="4" fill="#000"/>
<rect x="119.72" y="498.39" width="1.8" height="5.06" fill="#fff"/>
<rect x="131.96" y="503.45" width="1.4" height="7.36" fill="#fff"/>
<rect x="162.55" y="482.74" width="1.8" height="5.06" fill="#fff"/>
<rect x="170.67" y="482.74" width="1.8" height="4.14" fill="#fff"/>
<rect x="250.61" y="524.25" width="3" height="0.92" fill="#fff"/>
<rect x="258.63" y="523.88" width="3" height="1.01" fill="#fff"/>
<rect x="268.66" y="524.43" width="3" height="0.92" fill="#fff"/>
<rect x="280.7" y="524.07" width="3" height="0.92" fill="#fff"/>
<rect x="292.74" y="524.43" width="3" height="0.92" fill="#fff"/>
<rect x="306.78" y="524.25" width="3" height="0.92" fill="#fff"/>
<g stroke="#000" fill="none">
<path d="M37.8 307.1H46.5M46.5 528.3V307L130 306.2L400 307L507.2 307.6V528.3" stroke-width="1.6"/>
<path d="M38.3 528.3H46.5" stroke-width="1.5"/>
<path d="M41.3 520.9H46.5" stroke-width="1.4"/>
<path d="M41.3 513.5H46.5" stroke-width="1.4"/>
<path d="M41.3 506.1H46.5" stroke-width="1.4"/>
<path d="M41.3 498.7H46.5" stroke-width="1.4"/>
<path d="M38.3 491.3H46.5" stroke-width="1.5"/>
<path d="M41.3 483.9H46.5" stroke-width="1.4"/>
<path d="M41.3 476.5H46.5" stroke-width="1.4"/>
<path d="M41.3 469.1H46.5" stroke-width="1.4"/>
<path d="M41.3 461.7H46.5" stroke-width="1.4"/>
<path d="M38.3 454.3H46.5" stroke-width="1.5"/>
<path d="M41.3 446.9H46.5" stroke-width="1.4"/>
<path d="M41.3 439.5H46.5" stroke-width="1.4"/>
<path d="M41.3 432.1H46.5" stroke-width="1.4"/>
<path d="M41.3 424.7H46.5" stroke-width="1.4"/>
<path d="M38.3 417.3H46.5" stroke-width="1.5"/>
<path d="M41.3 409.9H46.5" stroke-width="1.4"/>
<path d="M41.3 402.5H46.5" stroke-width="1.4"/>
<path d="M41.3 395.1H46.5" stroke-width="1.4"/>
<path d="M41.3 387.7H46.5" stroke-width="1.4"/>
<path d="M38.3 380.3H46.5" stroke-width="1.5"/>
<path d="M41.3 372.9H46.5" stroke-width="1.4"/>
<path d="M41.3 365.5H46.5" stroke-width="1.4"/>
<path d="M41.3 358.1H46.5" stroke-width="1.4"/>
<path d="M41.3 350.7H46.5" stroke-width="1.4"/>
<path d="M38.3 343.3H46.5" stroke-width="1.5"/>
<path d="M41.3 335.9H46.5" stroke-width="1.4"/>
<path d="M41.3 328.5H46.5" stroke-width="1.4"/>
<path d="M41.3 321.1H46.5" stroke-width="1.4"/>
<path d="M41.3 313.7H46.5" stroke-width="1.4"/>
<path d="M38.3 306.3H46.5" stroke-width="1.5"/>
<path d="M37.5 528.3L507.2 528.3" stroke-width="1.9"/>
<path d="M47 528.3V532.9" stroke-width="1.6"/>
<path d="M81.63 528.3V530.7" stroke-width="1.3"/>
<path d="M101.89 528.3V530.7" stroke-width="1.3"/>
<path d="M116.27 528.3V530.7" stroke-width="1.3"/>
<path d="M127.42 528.3V530.7" stroke-width="1.3"/>
<path d="M136.53 528.3V530.7" stroke-width="1.3"/>
<path d="M144.23 528.3V530.7" stroke-width="1.3"/>
<path d="M150.9 528.3V530.7" stroke-width="1.3"/>
<path d="M156.79 528.3V530.7" stroke-width="1.3"/>
<path d="M162.05 528.3V532.9" stroke-width="1.6"/>
<path d="M196.68 528.3V530.7" stroke-width="1.3"/>
<path d="M216.94 528.3V530.7" stroke-width="1.3"/>
<path d="M231.32 528.3V530.7" stroke-width="1.3"/>
<path d="M242.47 528.3V530.7" stroke-width="1.3"/>
<path d="M251.58 528.3V530.7" stroke-width="1.3"/>
<path d="M259.28 528.3V530.7" stroke-width="1.3"/>
<path d="M265.95 528.3V530.7" stroke-width="1.3"/>
<path d="M271.84 528.3V530.7" stroke-width="1.3"/>
<path d="M277.1 528.3V532.9" stroke-width="1.6"/>
<path d="M311.73 528.3V530.7" stroke-width="1.3"/>
<path d="M331.99 528.3V530.7" stroke-width="1.3"/>
<path d="M346.37 528.3V530.7" stroke-width="1.3"/>
<path d="M357.52 528.3V530.7" stroke-width="1.3"/>
<path d="M366.63 528.3V530.7" stroke-width="1.3"/>
<path d="M374.33 528.3V530.7" stroke-width="1.3"/>
<path d="M381 528.3V530.7" stroke-width="1.3"/>
<path d="M386.89 528.3V530.7" stroke-width="1.3"/>
<path d="M392.15 528.3V532.9" stroke-width="1.6"/>
<path d="M426.78 528.3V530.7" stroke-width="1.3"/>
<path d="M447.04 528.3V530.7" stroke-width="1.3"/>
<path d="M461.42 528.3V530.7" stroke-width="1.3"/>
<path d="M472.57 528.3V530.7" stroke-width="1.3"/>
<path d="M481.68 528.3V530.7" stroke-width="1.3"/>
<path d="M489.38 528.3V530.7" stroke-width="1.3"/>
<path d="M496.05 528.3V530.7" stroke-width="1.3"/>
<path d="M501.94 528.3V530.7" stroke-width="1.3"/>
<path d="M507.2 528.3V532.9" stroke-width="1.6"/>
</g>
<text x="35.2" y="543.5" font-size="9.6" textLength="17.4" lengthAdjust="spacingAndGlyphs" class="tk">10</text>
<text x="52.3" y="538.2" font-size="8.8" textLength="9" lengthAdjust="spacingAndGlyphs" class="tk">0</text>
<text x="150.5" y="543.5" font-size="9.6" textLength="17.4" lengthAdjust="spacingAndGlyphs" class="tk">10</text>
<text x="168.2" y="538.2" font-size="8.8" textLength="9" lengthAdjust="spacingAndGlyphs" class="tk">1</text>
<text x="264.1" y="543.5" font-size="9.6" textLength="17.4" lengthAdjust="spacingAndGlyphs" class="tk">10</text>
<text x="281" y="538.2" font-size="8.8" textLength="9" lengthAdjust="spacingAndGlyphs" class="tk">2</text>
<text x="379.7" y="543.5" font-size="9.6" textLength="17.4" lengthAdjust="spacingAndGlyphs" class="tk">10</text>
<text x="396.8" y="538.2" font-size="8.8" textLength="9" lengthAdjust="spacingAndGlyphs" class="tk">3</text>
<text x="491.3" y="543.5" font-size="9.6" textLength="17.4" lengthAdjust="spacingAndGlyphs" class="tk">10</text>
<text x="510.4" y="538.2" font-size="8.8" textLength="9" lengthAdjust="spacingAndGlyphs" class="tk">4</text>
<rect x="274.1" y="306.3" width="233.1" height="65.2" fill="#fff" stroke="#000" stroke-width="1.6"/>
<clipPath id="lc2"><rect x="279.6" y="313.4" width="30.2" height="13.9" rx="2"/></clipPath>
<g clip-path="url(#lc2)" fill="none"><path d="M272.6 320.15l3.3 -3.2M283.6 320.15l3.3 -3.2M294.6 320.15l3.3 -3.2M305.6 320.15l3.3 -3.2M316.6 320.15l3.3 -3.2" stroke="#000" stroke-width="1.4"/><path d="M276.8 322.95l3.6 3M277.6 312.95l3.6 3M287.8 322.95l3.6 3M288.6 312.95l3.6 3M298.8 322.95l3.6 3M299.6 312.95l3.6 3M309.8 322.95l3.6 3M310.6 312.95l3.6 3M320.8 322.95l3.6 3M321.6 312.95l3.6 3" stroke="#555" stroke-width="2.2"/></g>
<rect x="279.6" y="313.4" width="30.2" height="13.9" rx="0.6" fill="none" stroke="#000" stroke-width="1.6"/>
<rect x="279.6" y="333" width="30.2" height="13.4" fill="url(#xhL)" stroke="#000" stroke-width="1.7"/>
<rect x="279.6" y="353.7" width="30.2" height="15.7" rx="2.5" fill="none" stroke="#000" stroke-width="1.7" stroke-dasharray="1.7 2.2"/>
<text x="319.7" y="325" font-size="12.2" textLength="85.5" lengthAdjust="spacingAndGlyphs">negative control</text>
<text x="319.7" y="344.2" font-size="12.2" textLength="77" lengthAdjust="spacingAndGlyphs">DOX 0.5µg/ml</text>
<text x="319.7" y="367.1" font-size="12.2" textLength="128.5" lengthAdjust="spacingAndGlyphs">DOX 0.5+Lcells CDw32</text>
</g>
<rect x="273" y="9.9" width="232.6" height="64.6" fill="#fff" stroke="#000" stroke-width="1.6"/>
<clipPath id="lc1"><rect x="281.3" y="15.1" width="30.5" height="13.5" rx="2"/></clipPath>
<g clip-path="url(#lc1)" fill="none"><path d="M279.3 19.95l3.6 3.4M289.1 19.95l3.6 3.4M298.9 19.95l3.6 3.4M308.7 19.95l3.6 3.4M318.5 19.95l3.6 3.4" stroke="#000" stroke-width="1.4"/><path d="M284.3 17.25l4.4 -3.6M279.3 30.05l4.4 -3.6M294.1 17.25l4.4 -3.6M289.1 30.05l4.4 -3.6M303.9 17.25l4.4 -3.6M298.9 30.05l4.4 -3.6M313.7 17.25l4.4 -3.6M308.7 30.05l4.4 -3.6M323.5 17.25l4.4 -3.6M318.5 30.05l4.4 -3.6" stroke="#555" stroke-width="2.2"/></g>
<rect x="281.3" y="15.1" width="30.5" height="13.5" rx="2.2" fill="none" stroke="#000" stroke-width="1.6"/>
<rect x="281.3" y="35" width="30.5" height="13.9" fill="url(#xhL)" stroke="#000" stroke-width="1.7"/>
<rect x="281.3" y="54.7" width="30.5" height="16.2" rx="2.5" fill="none" stroke="#000" stroke-width="1.3" stroke-dasharray="1.4 1.5"/>
<text x="319.6" y="27" font-size="12" textLength="86.5" lengthAdjust="spacingAndGlyphs">negative control</text>
<text x="319.6" y="47.5" font-size="12" textLength="76" lengthAdjust="spacingAndGlyphs">DOX 0.5µg/ml</text>
<text x="319.6" y="68" font-size="12" textLength="127.5" lengthAdjust="spacingAndGlyphs">DOX 0.5+Lcells CD40L</text>
<text x="180.6" y="266.3" font-size="14" textLength="143" lengthAdjust="spacingAndGlyphs">Fluorescence Intensity</text>
<text x="186.3" y="561.6" font-size="14.5" textLength="147" lengthAdjust="spacingAndGlyphs">Fluorescence Intensity</text>
<text x="1" y="29.3" font-size="40" font-weight="bold">A</text>
<text x="-1" y="327" font-size="40" font-weight="bold">B</text>
<text x="-0.3" y="620.2" font-size="40.6" font-weight="bold">C</text>
<g transform="matrix(1 -0.0035 0 1 0 0.4375)">
<rect x="133.8" y="855.29" width="7.46" height="52.11" fill="#000"/>
<rect x="133.8" y="855.29" width="7.46" height="52.11" fill="none" stroke="#000" stroke-width="1.35"/>
<rect x="141.26" y="827.71" width="7.46" height="79.69" fill="#fff"/>
<rect x="141.26" y="827.71" width="7.46" height="79.69" fill="none" stroke="#000" stroke-width="1.35"/>
<rect x="148.72" y="849.16" width="7.46" height="58.24" fill="#8a8a8a"/>
<rect x="148.72" y="849.16" width="7.46" height="58.24" fill="none" stroke="#000" stroke-width="1.35"/>
<rect x="156.18" y="793.38" width="7.46" height="114.02" fill="#fff"/>
<rect x="156.18" y="793.38" width="7.46" height="114.02" fill="none" stroke="#000" stroke-width="1.35"/>
<rect x="163.64" y="831.08" width="7.46" height="76.32" fill="#fff"/>
<path d="M163.64 906.4L171.1 898.94M163.64 900.8L171.1 893.34M163.64 895.2L171.1 887.74M163.64 889.6L171.1 882.14M163.64 884L171.1 876.54M163.64 878.4L171.1 870.94M163.64 872.8L171.1 865.34M163.64 867.2L171.1 859.74M163.64 861.6L171.1 854.14M163.64 856L171.1 848.54M163.64 850.4L171.1 842.94M163.64 844.8L171.1 837.34M163.64 839.2L171.1 831.74M163.64 833.6L166.16 831.08" stroke="#000" stroke-width="1.35" fill="none"/>
<rect x="163.64" y="831.08" width="7.46" height="76.32" fill="none" stroke="#000" stroke-width="1.35"/>
<rect x="171.1" y="784.19" width="7.46" height="123.21" fill="#fff"/>
<path d="M171.9 787.79l3 1.9M177 795.69l0.9 -0.6M171.9 799.09l3 1.9M177 806.99l0.9 -0.6M171.9 810.39l3 1.9M177 818.29l0.9 -0.6M171.9 821.69l3 1.9M177 829.59l0.9 -0.6M171.9 832.99l3 1.9M177 840.89l0.9 -0.6M171.9 844.29l3 1.9M177 852.19l0.9 -0.6M171.9 855.59l3 1.9M177 863.49l0.9 -0.6M171.9 866.89l3 1.9M177 874.79l0.9 -0.6M171.9 878.19l3 1.9M177 886.09l0.9 -0.6M171.9 889.49l3 1.9M177 897.39l0.9 -0.6M171.9 900.79l3 1.9" stroke="#000" stroke-width="1.3" fill="none"/>
<rect x="171.1" y="784.19" width="7.46" height="123.21" fill="none" stroke="#000" stroke-width="1.35"/>
<rect x="178.56" y="831.08" width="7.46" height="76.32" fill="#fff"/>
<path d="M178.56 904.4L186.02 896.94M178.56 893.2L186.02 885.74M178.56 882L186.02 874.54M178.56 870.8L186.02 863.34M178.56 859.6L186.02 852.14M178.56 848.4L186.02 840.94M178.56 837.2L184.68 831.08" stroke="#000" stroke-width="1.35" fill="none"/>
<rect x="178.56" y="831.08" width="7.46" height="76.32" fill="none" stroke="#000" stroke-width="1.35"/>
<rect x="203.8" y="876.75" width="7.46" height="30.65" fill="#000"/>
<rect x="203.8" y="876.75" width="7.46" height="30.65" fill="none" stroke="#000" stroke-width="1.35"/>
<rect x="211.26" y="858.36" width="7.46" height="49.04" fill="#fff"/>
<rect x="211.26" y="858.36" width="7.46" height="49.04" fill="none" stroke="#000" stroke-width="1.35"/>
<rect x="218.72" y="870.62" width="7.46" height="36.78" fill="#8a8a8a"/>
<rect x="218.72" y="870.62" width="7.46" height="36.78" fill="none" stroke="#000" stroke-width="1.35"/>
<rect x="226.18" y="808.71" width="7.46" height="98.69" fill="#fff"/>
<rect x="226.18" y="808.71" width="7.46" height="98.69" fill="none" stroke="#000" stroke-width="1.35"/>
<rect x="233.64" y="864.49" width="7.46" height="42.91" fill="#fff"/>
<path d="M233.64 906.4L241.1 898.94M233.64 900.8L241.1 893.34M233.64 895.2L241.1 887.74M233.64 889.6L241.1 882.14M233.64 884L241.1 876.54M233.64 878.4L241.1 870.94M233.64 872.8L241.1 865.34M233.64 867.2L236.35 864.49" stroke="#000" stroke-width="1.35" fill="none"/>
<rect x="233.64" y="864.49" width="7.46" height="42.91" fill="none" stroke="#000" stroke-width="1.35"/>
<rect x="241.1" y="676.3" width="7.46" height="231.1" fill="#fff"/>
<path d="M244.5 683.9l3.7 -3.7M241.8 688.2l0.9 0.6M244.5 695.2l3.7 -3.7M241.8 699.5l0.9 0.6M244.5 706.5l3.7 -3.7M241.8 710.8l0.9 0.6M244.5 717.8l3.7 -3.7M241.8 722.1l0.9 0.6M244.5 729.1l3.7 -3.7M241.8 733.4l0.9 0.6M244.5 740.4l3.7 -3.7M241.8 744.7l0.9 0.6M244.5 751.7l3.7 -3.7M241.8 756l0.9 0.6M244.5 763l3.7 -3.7M241.8 767.3l0.9 0.6M244.5 774.3l3.7 -3.7M241.8 778.6l0.9 0.6M244.5 785.6l3.7 -3.7M241.8 789.9l0.9 0.6M244.5 796.9l3.7 -3.7M241.8 801.2l0.9 0.6M244.5 808.2l3.7 -3.7M241.8 812.5l0.9 0.6M244.5 819.5l3.7 -3.7M241.8 823.8l0.9 0.6M244.5 830.8l3.7 -3.7M241.8 835.1l0.9 0.6M244.5 842.1l3.7 -3.7M241.8 846.4l0.9 0.6M244.5 853.4l3.7 -3.7M241.8 857.7l0.9 0.6M244.5 864.7l3.7 -3.7M241.8 869l0.9 0.6M244.5 876l3.7 -3.7M241.8 880.3l0.9 0.6M244.5 887.3l3.7 -3.7M241.8 891.6l0.9 0.6M244.5 898.6l3.7 -3.7M241.8 902.9l0.9 0.6" stroke="#000" stroke-width="1.3" fill="none"/>
<rect x="241.1" y="676.3" width="7.46" height="231.1" fill="none" stroke="#000" stroke-width="1.35"/>
<rect x="248.56" y="750.17" width="7.46" height="157.23" fill="#fff"/>
<path d="M248.56 904.4L256.02 896.94M248.56 893.2L256.02 885.74M248.56 882L256.02 874.54M248.56 870.8L256.02 863.34M248.56 859.6L256.02 852.14M248.56 848.4L256.02 840.94M248.56 837.2L256.02 829.74M248.56 826L256.02 818.54M248.56 814.8L256.02 807.34M248.56 803.6L256.02 796.14M248.56 792.4L256.02 784.94M248.56 781.2L256.02 773.74M248.56 770L256.02 762.54M248.56 758.8L256.02 751.34" stroke="#000" stroke-width="1.35" fill="none"/>
<rect x="248.56" y="750.17" width="7.46" height="157.23" fill="none" stroke="#000" stroke-width="1.35"/>
<rect x="273.8" y="901.27" width="7.46" height="6.13" fill="#000"/>
<rect x="273.8" y="901.27" width="7.46" height="6.13" fill="none" stroke="#000" stroke-width="1.35"/>
<rect x="281.26" y="870.62" width="7.46" height="36.78" fill="#fff"/>
<rect x="281.26" y="870.62" width="7.46" height="36.78" fill="none" stroke="#000" stroke-width="1.35"/>
<rect x="288.72" y="889.01" width="7.46" height="18.39" fill="#8a8a8a"/>
<rect x="288.72" y="889.01" width="7.46" height="18.39" fill="none" stroke="#000" stroke-width="1.35"/>
<rect x="296.18" y="748.02" width="7.46" height="159.38" fill="#fff"/>
<rect x="296.18" y="748.02" width="7.46" height="159.38" fill="none" stroke="#000" stroke-width="1.35"/>
<rect x="303.64" y="790.32" width="7.46" height="117.08" fill="#fff"/>
<path d="M303.64 906.4L311.1 898.94M303.64 900.8L311.1 893.34M303.64 895.2L311.1 887.74M303.64 889.6L311.1 882.14M303.64 884L311.1 876.54M303.64 878.4L311.1 870.94M303.64 872.8L311.1 865.34M303.64 867.2L311.1 859.74M303.64 861.6L311.1 854.14M303.64 856L311.1 848.54M303.64 850.4L311.1 842.94M303.64 844.8L311.1 837.34M303.64 839.2L311.1 831.74M303.64 833.6L311.1 826.14M303.64 828L311.1 820.54M303.64 822.4L311.1 814.94M303.64 816.8L311.1 809.34M303.64 811.2L311.1 803.74M303.64 805.6L311.1 798.14M303.64 800L311.1 792.54M303.64 794.4L307.72 790.32" stroke="#000" stroke-width="1.35" fill="none"/>
<rect x="303.64" y="790.32" width="7.46" height="117.08" fill="none" stroke="#000" stroke-width="1.35"/>
<rect x="311.1" y="769.17" width="7.46" height="138.23" fill="#fff"/>
<path d="M311.9 773.77l1 0.7M316.7 779.67l1 -0.7M311.9 785.07l1 0.7M316.7 790.97l1 -0.7M311.9 796.37l1 0.7M316.7 802.27l1 -0.7M311.9 807.67l1 0.7M316.7 813.57l1 -0.7M311.9 818.97l1 0.7M316.7 824.87l1 -0.7M311.9 830.27l1 0.7M316.7 836.17l1 -0.7M311.9 841.57l1 0.7M316.7 847.47l1 -0.7M311.9 852.87l1 0.7M316.7 858.77l1 -0.7M311.9 864.17l1 0.7M316.7 870.07l1 -0.7M311.9 875.47l1 0.7M316.7 881.37l1 -0.7M311.9 886.77l1 0.7M316.7 892.67l1 -0.7M311.9 898.07l1 0.7M316.7 903.97l1 -0.7" stroke="#000" stroke-width="1.3" fill="none"/>
<rect x="311.1" y="769.17" width="7.46" height="138.23" fill="none" stroke="#000" stroke-width="1.35"/>
<rect x="318.56" y="771.62" width="7.46" height="135.78" fill="#fff"/>
<path d="M318.56 904.4L326.02 896.94M318.56 893.2L326.02 885.74M318.56 882L326.02 874.54M318.56 870.8L326.02 863.34M318.56 859.6L326.02 852.14M318.56 848.4L326.02 840.94M318.56 837.2L326.02 829.74M318.56 826L326.02 818.54M318.56 814.8L326.02 807.34M318.56 803.6L326.02 796.14M318.56 792.4L326.02 784.94M318.56 781.2L326.02 773.74" stroke="#000" stroke-width="1.35" fill="none"/>
<rect x="318.56" y="771.62" width="7.46" height="135.78" fill="none" stroke="#000" stroke-width="1.35"/>
<rect x="343.8" y="892.07" width="7.46" height="15.33" fill="#000"/>
<rect x="343.8" y="892.07" width="7.46" height="15.33" fill="none" stroke="#000" stroke-width="1.35"/>
<rect x="351.26" y="833.84" width="7.46" height="73.56" fill="#fff"/>
<rect x="351.26" y="833.84" width="7.46" height="73.56" fill="none" stroke="#000" stroke-width="1.35"/>
<rect x="358.72" y="879.81" width="7.46" height="27.59" fill="#8a8a8a"/>
<rect x="358.72" y="879.81" width="7.46" height="27.59" fill="none" stroke="#000" stroke-width="1.35"/>
<rect x="366.18" y="704.8" width="7.46" height="202.6" fill="#fff"/>
<rect x="366.18" y="704.8" width="7.46" height="202.6" fill="none" stroke="#000" stroke-width="1.35"/>
<rect x="373.64" y="783.88" width="7.46" height="123.52" fill="#fff"/>
<path d="M373.64 906.4L381.1 898.94M373.64 900.8L381.1 893.34M373.64 895.2L381.1 887.74M373.64 889.6L381.1 882.14M373.64 884L381.1 876.54M373.64 878.4L381.1 870.94M373.64 872.8L381.1 865.34M373.64 867.2L381.1 859.74M373.64 861.6L381.1 854.14M373.64 856L381.1 848.54M373.64 850.4L381.1 842.94M373.64 844.8L381.1 837.34M373.64 839.2L381.1 831.74M373.64 833.6L381.1 826.14M373.64 828L381.1 820.54M373.64 822.4L381.1 814.94M373.64 816.8L381.1 809.34M373.64 811.2L381.1 803.74M373.64 805.6L381.1 798.14M373.64 800L381.1 792.54M373.64 794.4L381.1 786.94M373.64 788.8L378.56 783.88" stroke="#000" stroke-width="1.35" fill="none"/>
<rect x="373.64" y="783.88" width="7.46" height="123.52" fill="none" stroke="#000" stroke-width="1.35"/>
<rect x="381.1" y="692.24" width="7.46" height="215.16" fill="#fff"/>
<path d="M382.3 694.84l4.6 3.6M382.3 706.14l4.6 3.6M382.3 717.44l4.6 3.6M382.3 728.74l4.6 3.6M382.3 740.04l4.6 3.6M382.3 751.34l4.6 3.6M382.3 762.64l4.6 3.6M382.3 773.94l4.6 3.6M382.3 785.24l4.6 3.6M382.3 796.54l4.6 3.6M382.3 807.84l4.6 3.6M382.3 819.14l4.6 3.6M382.3 830.44l4.6 3.6M382.3 841.74l4.6 3.6M382.3 853.04l4.6 3.6M382.3 864.34l4.6 3.6M382.3 875.64l4.6 3.6M382.3 886.94l4.6 3.6M382.3 898.24l4.6 3.6" stroke="#000" stroke-width="1.3" fill="none"/>
<rect x="381.1" y="692.24" width="7.46" height="215.16" fill="none" stroke="#000" stroke-width="1.35"/>
<rect x="388.56" y="753.84" width="7.46" height="153.56" fill="#fff"/>
<path d="M388.56 904.4L396.02 896.94M388.56 893.2L396.02 885.74M388.56 882L396.02 874.54M388.56 870.8L396.02 863.34M388.56 859.6L396.02 852.14M388.56 848.4L396.02 840.94M388.56 837.2L396.02 829.74M388.56 826L396.02 818.54M388.56 814.8L396.02 807.34M388.56 803.6L396.02 796.14M388.56 792.4L396.02 784.94M388.56 781.2L396.02 773.74M388.56 770L396.02 762.54M388.56 758.8L393.52 753.84" stroke="#000" stroke-width="1.35" fill="none"/>
<rect x="388.56" y="753.84" width="7.46" height="153.56" fill="none" stroke="#000" stroke-width="1.35"/>
<rect x="413.8" y="892.07" width="7.46" height="15.33" fill="#000"/>
<rect x="413.8" y="892.07" width="7.46" height="15.33" fill="none" stroke="#000" stroke-width="1.35"/>
<rect x="421.26" y="731.78" width="7.46" height="175.62" fill="#fff"/>
<rect x="421.26" y="731.78" width="7.46" height="175.62" fill="none" stroke="#000" stroke-width="1.35"/>
<rect x="428.72" y="787.87" width="7.46" height="119.53" fill="#8a8a8a"/>
<rect x="428.72" y="787.87" width="7.46" height="119.53" fill="none" stroke="#000" stroke-width="1.35"/>
<rect x="436.18" y="686.11" width="7.46" height="221.29" fill="#fff"/>
<rect x="436.18" y="686.11" width="7.46" height="221.29" fill="none" stroke="#000" stroke-width="1.35"/>
<rect x="443.64" y="772.54" width="7.46" height="134.86" fill="#fff"/>
<path d="M443.64 906.4L451.1 898.94M443.64 900.8L451.1 893.34M443.64 895.2L451.1 887.74M443.64 889.6L451.1 882.14M443.64 884L451.1 876.54M443.64 878.4L451.1 870.94M443.64 872.8L451.1 865.34M443.64 867.2L451.1 859.74M443.64 861.6L451.1 854.14M443.64 856L451.1 848.54M443.64 850.4L451.1 842.94M443.64 844.8L451.1 837.34M443.64 839.2L451.1 831.74M443.64 833.6L451.1 826.14M443.64 828L451.1 820.54M443.64 822.4L451.1 814.94M443.64 816.8L451.1 809.34M443.64 811.2L451.1 803.74M443.64 805.6L451.1 798.14M443.64 800L451.1 792.54M443.64 794.4L451.1 786.94M443.64 788.8L451.1 781.34M443.64 783.2L451.1 775.74M443.64 777.6L448.7 772.54" stroke="#000" stroke-width="1.35" fill="none"/>
<rect x="443.64" y="772.54" width="7.46" height="134.86" fill="none" stroke="#000" stroke-width="1.35"/>
<rect x="451.1" y="644.73" width="7.46" height="262.67" fill="#fff"/>
<path d="M454.5 652.33l3.7 -3.7M451.8 656.63l0.9 0.6M454.5 663.63l3.7 -3.7M451.8 667.93l0.9 0.6M454.5 674.93l3.7 -3.7M451.8 679.23l0.9 0.6M454.5 686.23l3.7 -3.7M451.8 690.53l0.9 0.6M454.5 697.53l3.7 -3.7M451.8 701.83l0.9 0.6M454.5 708.83l3.7 -3.7M451.8 713.13l0.9 0.6M454.5 720.13l3.7 -3.7M451.8 724.43l0.9 0.6M454.5 731.43l3.7 -3.7M451.8 735.73l0.9 0.6M454.5 742.73l3.7 -3.7M451.8 747.03l0.9 0.6M454.5 754.03l3.7 -3.7M451.8 758.33l0.9 0.6M454.5 765.33l3.7 -3.7M451.8 769.63l0.9 0.6M454.5 776.63l3.7 -3.7M451.8 780.93l0.9 0.6M454.5 787.93l3.7 -3.7M451.8 792.23l0.9 0.6M454.5 799.23l3.7 -3.7M451.8 803.53l0.9 0.6M454.5 810.53l3.7 -3.7M451.8 814.83l0.9 0.6M454.5 821.83l3.7 -3.7M451.8 826.13l0.9 0.6M454.5 833.13l3.7 -3.7M451.8 837.43l0.9 0.6M454.5 844.43l3.7 -3.7M451.8 848.73l0.9 0.6M454.5 855.73l3.7 -3.7M451.8 860.03l0.9 0.6M454.5 867.03l3.7 -3.7M451.8 871.33l0.9 0.6M454.5 878.33l3.7 -3.7M451.8 882.63l0.9 0.6M454.5 889.63l3.7 -3.7M451.8 893.93l0.9 0.6M454.5 900.93l3.7 -3.7" stroke="#000" stroke-width="1.3" fill="none"/>
<rect x="451.1" y="644.73" width="7.46" height="262.67" fill="none" stroke="#000" stroke-width="1.35"/>
<rect x="458.56" y="676.61" width="7.46" height="230.79" fill="#fff"/>
<path d="M458.56 904.4L466.02 896.94M458.56 893.2L466.02 885.74M458.56 882L466.02 874.54M458.56 870.8L466.02 863.34M458.56 859.6L466.02 852.14M458.56 848.4L466.02 840.94M458.56 837.2L466.02 829.74M458.56 826L466.02 818.54M458.56 814.8L466.02 807.34M458.56 803.6L466.02 796.14M458.56 792.4L466.02 784.94M458.56 781.2L466.02 773.74M458.56 770L466.02 762.54M458.56 758.8L466.02 751.34M458.56 747.6L466.02 740.14M458.56 736.4L466.02 728.94M458.56 725.2L466.02 717.74M458.56 714L466.02 706.54M458.56 702.8L466.02 695.34M458.56 691.6L466.02 684.14M458.56 680.4L462.35 676.61" stroke="#000" stroke-width="1.35" fill="none"/>
<rect x="458.56" y="676.61" width="7.46" height="230.79" fill="none" stroke="#000" stroke-width="1.35"/>
<g stroke="#000" fill="none">
<path d="M125 600.4L125.3 907.4" stroke-width="1.8"/>
<path d="M119.4 907.4H477" stroke-width="1.6"/>
<path d="M119.6 907.4H125" stroke-width="1.4"/>
<path d="M122 876.75H125" stroke-width="1.4"/>
<path d="M119.6 846.1H125" stroke-width="1.4"/>
<path d="M122 815.45H125" stroke-width="1.4"/>
<path d="M119.6 784.8H125" stroke-width="1.4"/>
<path d="M122 754.15H125" stroke-width="1.4"/>
<path d="M119.6 723.5H125" stroke-width="1.4"/>
<path d="M122 692.85H125" stroke-width="1.4"/>
<path d="M119.6 662.2H125" stroke-width="1.4"/>
<path d="M122 631.55H125" stroke-width="1.4"/>
<path d="M119.6 600.9H125" stroke-width="1.4"/>
<path d="M195.45 907.4V910.9" stroke-width="1.5"/>
<path d="M265.6 907.4V910.9" stroke-width="1.5"/>
<path d="M335.75 907.4V910.9" stroke-width="1.5"/>
<path d="M405.9 907.4V910.9" stroke-width="1.5"/>
<path d="M476.05 907.4V910.9" stroke-width="1.5"/>
<path d="M125.3 907.4V910.4" stroke-width="1.8"/>
</g>
</g>
<text x="107.7" y="911.9" font-size="10.2" textLength="7.9" lengthAdjust="spacingAndGlyphs" class="dj">0</text>
<text x="98.9" y="850" font-size="10.2" textLength="15.3" lengthAdjust="spacingAndGlyphs" class="dj">20</text>
<text x="98.9" y="788.7" font-size="10.2" textLength="15.3" lengthAdjust="spacingAndGlyphs" class="dj">40</text>
<text x="98.9" y="727.4" font-size="10.2" textLength="15.3" lengthAdjust="spacingAndGlyphs" class="dj">60</text>
<text x="98.4" y="666.1" font-size="10.2" textLength="15.3" lengthAdjust="spacingAndGlyphs" class="dj">80</text>
<text x="90.7" y="604.8" font-size="10.2" textLength="22.9" lengthAdjust="spacingAndGlyphs" class="dj">100</text>
<text x="138.6" y="927.3" font-size="10.7" textLength="36.2" lengthAdjust="spacingAndGlyphs" class="dj">DAUDI</text>
<text x="213.1" y="927.1" font-size="10.7" textLength="25" lengthAdjust="spacingAndGlyphs" class="dj">RAJI</text>
<text x="282.3" y="926.4" font-size="10.7" textLength="29.9" lengthAdjust="spacingAndGlyphs" class="dj">BJAB</text>
<text x="352.6" y="925.9" font-size="10.7" textLength="31.6" lengthAdjust="spacingAndGlyphs" class="dj">BL36</text>
<text x="422.6" y="925.3" font-size="10.7" textLength="30.8" lengthAdjust="spacingAndGlyphs" class="dj">BL70</text>
<text x="283.2" y="949.4" font-size="10.7" textLength="34" lengthAdjust="spacingAndGlyphs" class="dj">CELLS</text>
<text transform="translate(76.4 818.6) rotate(-90)" font-size="10.7" textLength="134.6" lengthAdjust="spacingAndGlyphs" class="dj">% OF APOPTOTIC CELLS</text>
<text x="135.6" y="818.4" font-size="8.6" text-anchor="middle" class="tk">1</text>
<text x="143" y="794.7" font-size="8.6" font-weight="bold" text-anchor="middle" class="tk">2</text>
<text x="149.4" y="818.4" font-size="8.6" font-weight="bold" text-anchor="middle" class="tk">3</text>
<text x="158.9" y="788.9" font-size="8.6" text-anchor="middle" class="tk">4</text>
<text x="166.7" y="774" font-size="8.6" text-anchor="middle" class="tk">5</text>
<text x="173.6" y="759" font-size="8.6" font-weight="bold" text-anchor="middle" class="tk">6</text>
<text x="183.3" y="774" font-size="8.6" text-anchor="middle" class="tk">7</text>
</svg></body></html>
